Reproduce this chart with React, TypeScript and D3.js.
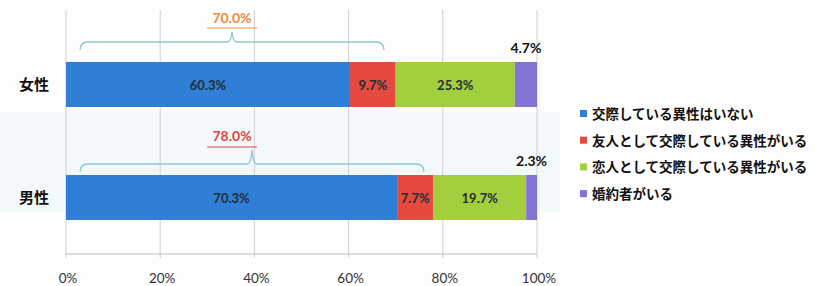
import { useRef, useEffect } from "react"
import * as d3 from "d3"

// categories (rows) and the four answer groups
const groups = ["女性", "男性"]
const series = [
  "交際している異性はいない",
  "友人として交際している異性がいる",
  "恋人として交際している異性がいる",
  "婚約者がいる",
]
const femaleValues = [60.3, 9.7, 25.3, 4.7]
const maleValues = [70.3, 7.7, 19.7, 2.3]
const ticks = [0, 20, 40, 60, 80, 100]

// brace annotations: total label + span in percent
const braceLabels = ["70.0%", "78.0%"]
const braceSpans = [
  [3, 67.5],
  [3, 76],
]

const colors = ["#2f7fd7", "#e64a3e", "#a3cf3e", "#8373d2"]
const braceTextColors = ["#f08a3c", "#e2463c"]

const App = () => {
  const svgRef = useRef<SVGSVGElement>(null)

  useEffect(() => {
    const W = 825
    const H = 286
    const svg = d3.select(svgRef.current)
    svg.selectAll("*").remove()
    svg.attr("width", W).attr("height", H)

    const jp = "'Noto Sans CJK JP', sans-serif"
    const num = "Lato, 'Noto Sans', sans-serif"

    svg.append("rect").attr("width", W).attr("height", H).attr("fill", "#fdfdfd")
    // faint tinted band from the scan
    svg.append("rect").attr("x", 0).attr("y", 112).attr("width", 560).attr("height", 100).attr("fill", "#f3f9fb")

    const x = d3.scaleLinear().domain([0, 100]).range([66, 537])
    const y = d3.scalePoint().domain(groups).range([84.5, 197.5])
    const bh = 45

    const top = 10
    const bottom = 254

    // grid lines
    svg
      .append("g")
      .selectAll("line")
      .data(ticks)
      .enter()
      .append("line")
      .attr("x1", (d) => x(d))
      .attr("x2", (d) => x(d))
      .attr("y1", top)
      .attr("y2", bottom + 4)
      .attr("stroke", "#cfcfcf")
      .attr("stroke-width", 1)

    svg
      .append("line")
      .attr("x1", x(0))
      .attr("x2", x(100))
      .attr("y1", bottom)
      .attr("y2", bottom)
      .attr("stroke", "#bdbdbd")

    // tick labels
    svg
      .append("g")
      .selectAll("text")
      .data(ticks)
      .enter()
      .append("text")
      .attr("x", (d) => x(d) + 2)
      .attr("y", 283)
      .attr("text-anchor", "middle")
      .style("font-family", num)
      .style("font-size", "13.5px")
      .attr("fill", "#333")
      .text((d) => `${d}%`)

    const rows = [femaleValues, maleValues]
    // per-row offsets of the hand-drawn brace annotation
    const braceOff = [
      { line: 20, tip: 10, text: 19, under: 14 },
      { line: 11, tip: 14, text: 23, under: 17 },
    ]

    rows.forEach((vals, i) => {
      const g = groups[i]
      const by = y(g)! - bh / 2
      let acc = 0
      const segs = vals.map((v, j) => {
        const s = { start: acc, end: acc + v, v, j }
        acc += v
        return s
      })

      svg
        .append("g")
        .selectAll("rect")
        .data(segs)
        .enter()
        .append("rect")
        .attr("x", (d) => x(d.start))
        .attr("width", (d) => x(d.end) - x(d.start))
        .attr("y", by)
        .attr("height", bh)
        .attr("fill", (d) => colors[d.j])

      // value labels (last segment goes above the bar)
      svg
        .append("g")
        .selectAll("text")
        .data(segs)
        .enter()
        .append("text")
        .attr("x", (d) => x((d.start + d.end) / 2))
        .attr("y", (d) => (d.j === 3 ? by - 9 : by + bh / 2 + 5))
        .attr("text-anchor", "middle")
        .style("font-family", num)
        .style("font-weight", "bold")
        .style("font-size", (d) => (d.j === 3 ? "14px" : "13px"))
        .attr("fill", (d) => (d.j === 3 ? "#111" : "#1f2d36"))
        .text((d) => `${d.v.toFixed(1)}%`)

      // category label
      svg
        .append("text")
        .attr("x", 34)
        .attr("y", by + bh / 2 + 5)
        .attr("text-anchor", "middle")
        .style("font-family", jp)
        .style("font-weight", "bold")
        .style("font-size", "15px")
        .attr("fill", "#111")
        .text(g)

      // brace
      const off = braceOff[i]
      const [s0, s1] = braceSpans[i]
      const bx0 = x(s0)
      const bx1 = x(s1)
      const mid = (bx0 + bx1) / 2
      const ly = by - off.line
      const r = 6
      const path = d3.path()
      path.moveTo(bx0, ly + r + 2)
      path.quadraticCurveTo(bx0, ly, bx0 + r + 2, ly)
      path.lineTo(mid - 5, ly)
      path.quadraticCurveTo(mid - 1, ly, mid, ly - off.tip)
      path.quadraticCurveTo(mid + 1, ly, mid + 5, ly)
      path.lineTo(bx1 - r - 2, ly)
      path.quadraticCurveTo(bx1, ly, bx1, ly + r + 2)
      svg
        .append("path")
        .attr("d", path.toString())
        .attr("fill", "none")
        .attr("stroke", "#8fc7cf")
        .attr("stroke-width", 1.3)

      const tx = i === 0 ? mid : mid - 20
      svg
        .append("text")
        .attr("x", tx)
        .attr("y", ly - off.text)
        .attr("text-anchor", "middle")
        .style("font-family", num)
        .style("font-weight", "bold")
        .style("font-size", "14px")
        .attr("fill", braceTextColors[i])
        .text(braceLabels[i])
      svg
        .append("line")
        .attr("x1", tx - 25)
        .attr("x2", tx + 25)
        .attr("y1", ly - off.under)
        .attr("y2", ly - off.under)
        .attr("stroke", braceTextColors[i])
        .attr("stroke-width", 1.2)
    })

    // legend
    const legend = svg
      .selectAll(".legend")
      .data(series)
      .enter()
      .append("g")
      .attr("class", "legend")
      .attr("transform", (d, i) => `translate(580,${114 + i * 26.7})`)

    legend
      .append("rect")
      .attr("x", 0)
      .attr("y", -4)
      .attr("width", 7)
      .attr("height", 7)
      .attr("fill", (d, i) => colors[i])

    legend
      .append("text")
      .attr("x", 12)
      .attr("y", 5)
      .style("font-family", jp)
      .style("font-weight", "bold")
      .style("font-size", "13.5px")
      .attr("fill", "#111")
      .text((d) => d)
  }, [])

  return (
    <div style={{ position: "absolute", left: 0, top: 0 }}>
      <svg ref={svgRef} style={{ display: "block" }}></svg>
    </div>
  )
}

export default App
